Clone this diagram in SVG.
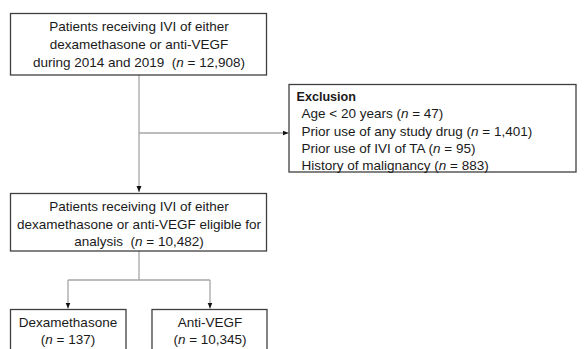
<svg xmlns="http://www.w3.org/2000/svg" width="584" height="349" viewBox="0 0 584 349">
<style>
.box{fill:#fff;stroke:#3f3f3f;stroke-width:1.3}
.t{font-family:"Liberation Sans",Arial,sans-serif;font-size:13.5px;fill:#1a1a1a}
.c{text-anchor:middle}
.b{font-weight:bold;font-size:12.6px}
.ln{fill:none;stroke:#a6a6a6;stroke-width:1.3}
</style>
<defs>
<marker id="ah" viewBox="0 0 6 6" refX="6" refY="3" markerWidth="6" markerHeight="6" orient="auto" markerUnits="userSpaceOnUse">
<path d="M0,0.5 L6,3 L0,5.5 Z" fill="#111"/>
</marker>
</defs>
<rect width="584" height="349" fill="#fff"/>
<g id="connectors">
<path class="ln" d="M139,75 V192" marker-end="url(#ah)"/>
<path class="ln" d="M139,133 H288.5" marker-end="url(#ah)"/>
<path class="ln" d="M139,251 V280"/>
<path class="ln" d="M68,280 H210"/>
<path class="ln" d="M68,280 V308.5" marker-end="url(#ah)"/>
<path class="ln" d="M210,280 V308.5" marker-end="url(#ah)"/>
</g>
<g id="n1">
<rect class="box" x="10.5" y="13.5" width="256" height="61.5"/>
<text class="t c" x="139" y="30.5">Patients receiving IVI of either</text>
<text class="t c" x="139" y="48.5">dexamethasone or anti-VEGF</text>
<text class="t c" x="139" y="66.5" xml:space="preserve">during 2014 and 2019  (<tspan font-style="italic">n</tspan> = 12,908)</text>
</g>
<g id="exclusion">
<rect class="box" x="289" y="84.5" width="287" height="87.5"/>
<text class="t b" x="296.5" y="100.5">Exclusion</text>
<text class="t" x="301.5" y="118">Age &lt; 20 years (<tspan font-style="italic">n</tspan> = 47)</text>
<text class="t" x="301.5" y="135.5">Prior use of any study drug (<tspan font-style="italic">n</tspan> = 1,401)</text>
<text class="t" x="301.5" y="152.5">Prior use of IVI of TA (<tspan font-style="italic">n</tspan> = 95)</text>
<text class="t" x="301.5" y="169.5">History of malignancy (<tspan font-style="italic">n</tspan> = 883)</text>
</g>
<g id="n2">
<rect class="box" x="10.5" y="193.5" width="256" height="57.5"/>
<text class="t c" x="139" y="211">Patients receiving IVI of either</text>
<text class="t c" x="139" y="228.5">dexamethasone or anti-VEGF eligible for</text>
<text class="t c" x="139" y="246" xml:space="preserve">analysis  (<tspan font-style="italic">n</tspan> = 10,482)</text>
</g>
<g id="dex">
<rect class="box" x="10.5" y="309.5" width="115.5" height="45"/>
<text class="t c" x="68" y="327">Dexamethasone</text>
<text class="t c" x="68" y="344">(<tspan font-style="italic">n</tspan> = 137)</text>
</g>
<g id="antivegf">
<rect class="box" x="152" y="309.5" width="115" height="45"/>
<text class="t c" x="210" y="327">Anti-VEGF</text>
<text class="t c" x="210" y="344">(<tspan font-style="italic">n</tspan> = 10,345)</text>
</g>
</svg>
